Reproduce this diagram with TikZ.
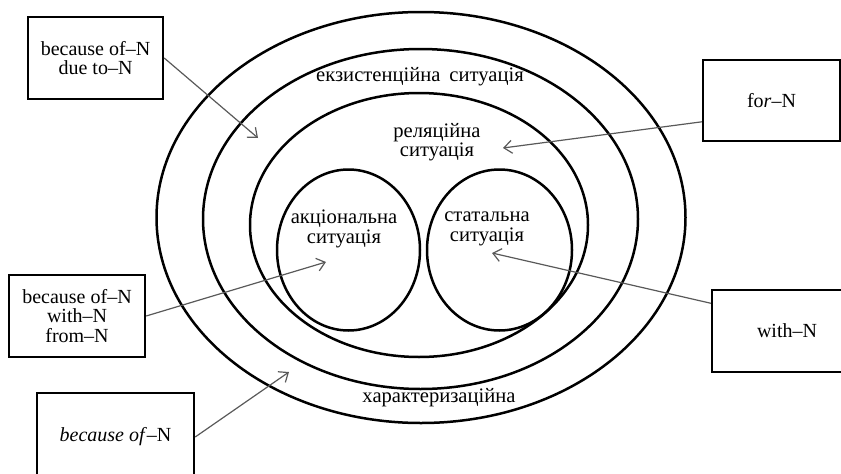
\documentclass[tikz,border=0pt]{standalone}
\usepackage{fontspec}
\setmainfont{Liberation Serif}
\usetikzlibrary{arrows.meta}

\begin{document}
\begin{tikzpicture}[x=1pt, y=-1pt,
    ring/.style={line width=2.5pt},
    box/.style={draw, line width=2.4pt, align=center, inner sep=0pt, font=\fontsize{20}{19.5}\selectfont},
    arr/.style={-{Straight Barb[length=8pt,width=13pt]}, line width=1.2pt, color=black!65},
    lbl/.style={align=center, inner sep=1pt, font=\fontsize{20.6}{19.5}\selectfont}]
    \useasboundingbox (0,0) rectangle (841,474);
    \clip (0,0) rectangle (841,474);
    % nested situations
    \draw[ring] (421,217.5) ellipse (264.5 and 205.5);
    \draw[ring] (420.5,219) ellipse (217.5 and 170);
    \draw[ring] (419,225) ellipse (169 and 132);
    \draw[ring] (348.5,250) ellipse (71.5 and 80.5);
    \draw[ring] (499.5,250) ellipse (72.5 and 80.5);
    \node[lbl] (exist) at (420,77) {екзистенційна\hspace{9pt}ситуація};
    \node[lbl] (relat) at (437,142) {реляційна\\ситуація};
    \node[lbl] (action) at (344,229) {акціональна\\ситуація};
    \node[lbl] (stat) at (487,229) {статальна\\ситуація};
    \node[lbl] (charact) at (439,398) {характеризаційна};
    % prepositional patterns
    \node[box, minimum width=135pt, minimum height=82pt] (becdue) at (95.5,58) {because of–N\\due to–N};
    \node[box, minimum width=137pt, minimum height=81pt] (forbox) at (771.5,100.5) {fo\textit{r}–N};
    \node[box, minimum width=136pt, minimum height=82pt] (becwith) at (77,316) {because of–N\\with–N\\from–N};
    \node[box, minimum width=157pt, minimum height=88pt] (becital) at (115.5,437) {\textit{because of}–N};
    \node[box, minimum width=150pt, minimum height=82pt] (withbox) at (787,331) {with–N};
    % arrow tips
    \coordinate (tipA) at (258,138);
    \coordinate (tipB) at (503,148);
    \coordinate (tipC) at (326,262);
    \coordinate (tipD) at (289,372);
    \coordinate (tipE) at (492,253);
    \draw[arr] (becdue.east) -- (tipA);
    \draw[arr] (forbox.197) -- (tipB);
    \draw[arr] (becwith.east) -- (tipC);
    \draw[arr] (becital.east) -- (tipD);
    \draw[arr] (withbox.160) -- (tipE);
\end{tikzpicture}
\end{document}
